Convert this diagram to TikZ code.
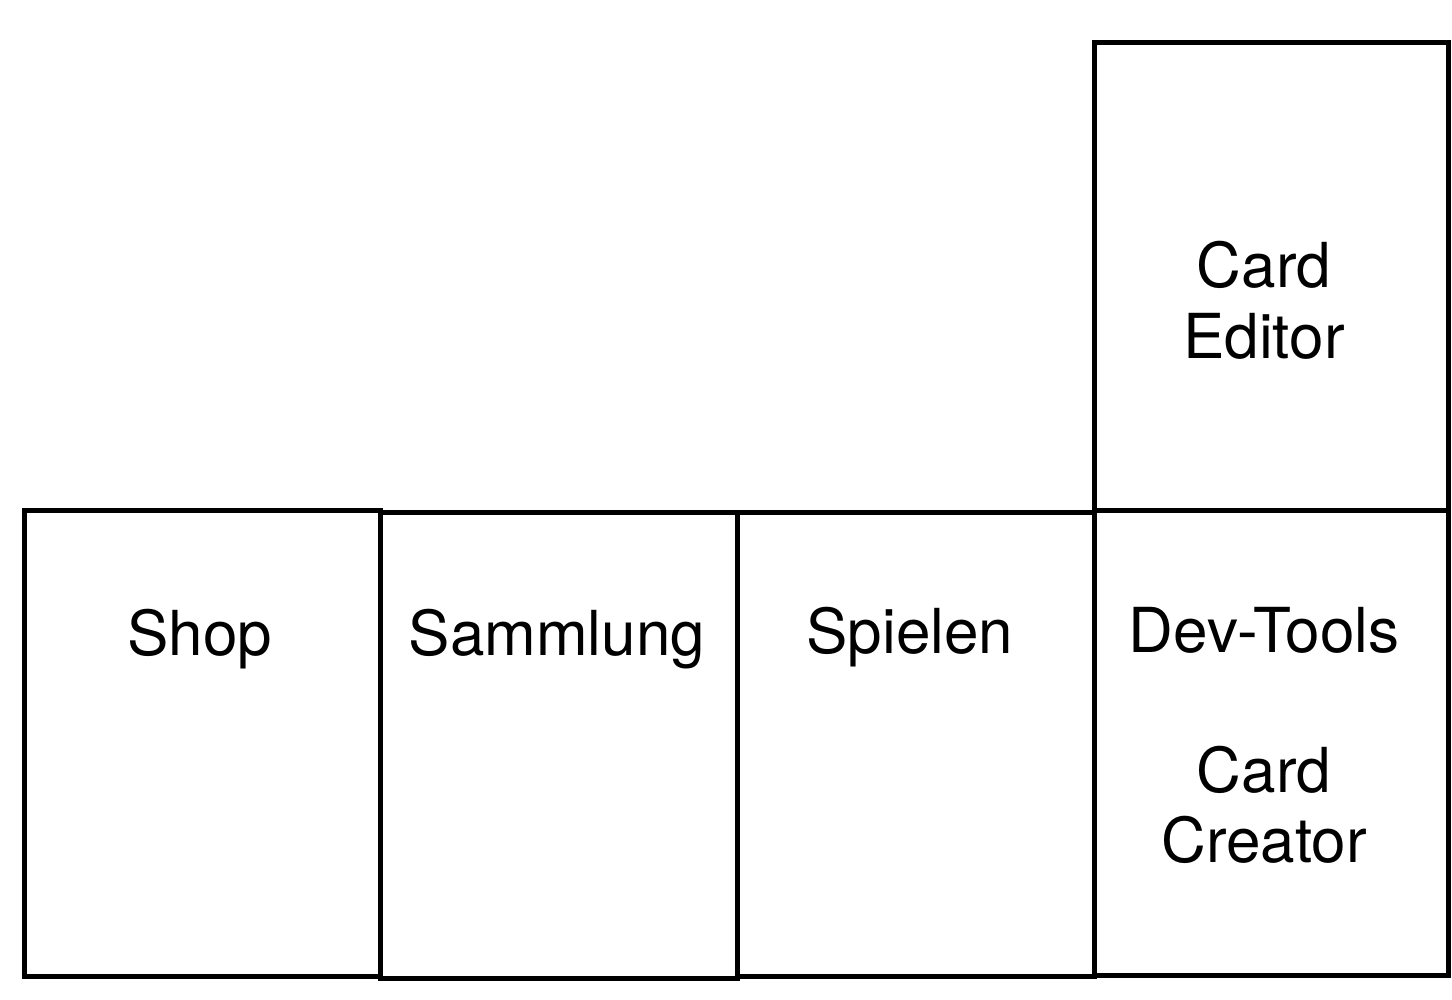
\documentclass[tikz,border=0pt]{standalone}
\usepackage{fontspec}
\setmainfont{TeX Gyre Heros}
\begin{document}
\begin{tikzpicture}[x=0.5pt,y=-0.5pt,
  box/.style={draw=black, line width=2.5pt, anchor=north west, inner sep=0pt, outer sep=0pt},
  lbl/.style={anchor=base, inner sep=0pt, font=\fontsize{31pt}{35pt}\selectfont, align=center}]
\useasboundingbox (0,0) rectangle (1452,1000);
\node[box, minimum width=178pt, minimum height=233pt] (shop) at (24,510) {};
\node[box, minimum width=178.5pt, minimum height=233pt] (samm) at (380,512) {};
\node[box, minimum width=178.5pt, minimum height=232pt] (spiel) at (737,512) {};
\node[box, minimum width=177pt, minimum height=232.5pt] (dev) at (1094,510) {};
\node[box, minimum width=177pt, minimum height=233.5pt] (edit) at (1094,43) {};
\node[lbl] (tshop) at (200,655) {Shop};
\node[lbl] (tsamm) at (557,655) {Sammlung};
\node[lbl] (tspiel) at (910,653) {Spielen};
\node[lbl] (tdev) at (1264,652) {Dev-Tools};
\node[lbl] (tcard1) at (1264,792) {Card};
\node[lbl] (tcreat) at (1264,862) {Creator};
\node[lbl] (tcard2) at (1264,288) {Card};
\node[lbl] (tedit) at (1264,358) {Editor};
\end{tikzpicture}
\end{document}
